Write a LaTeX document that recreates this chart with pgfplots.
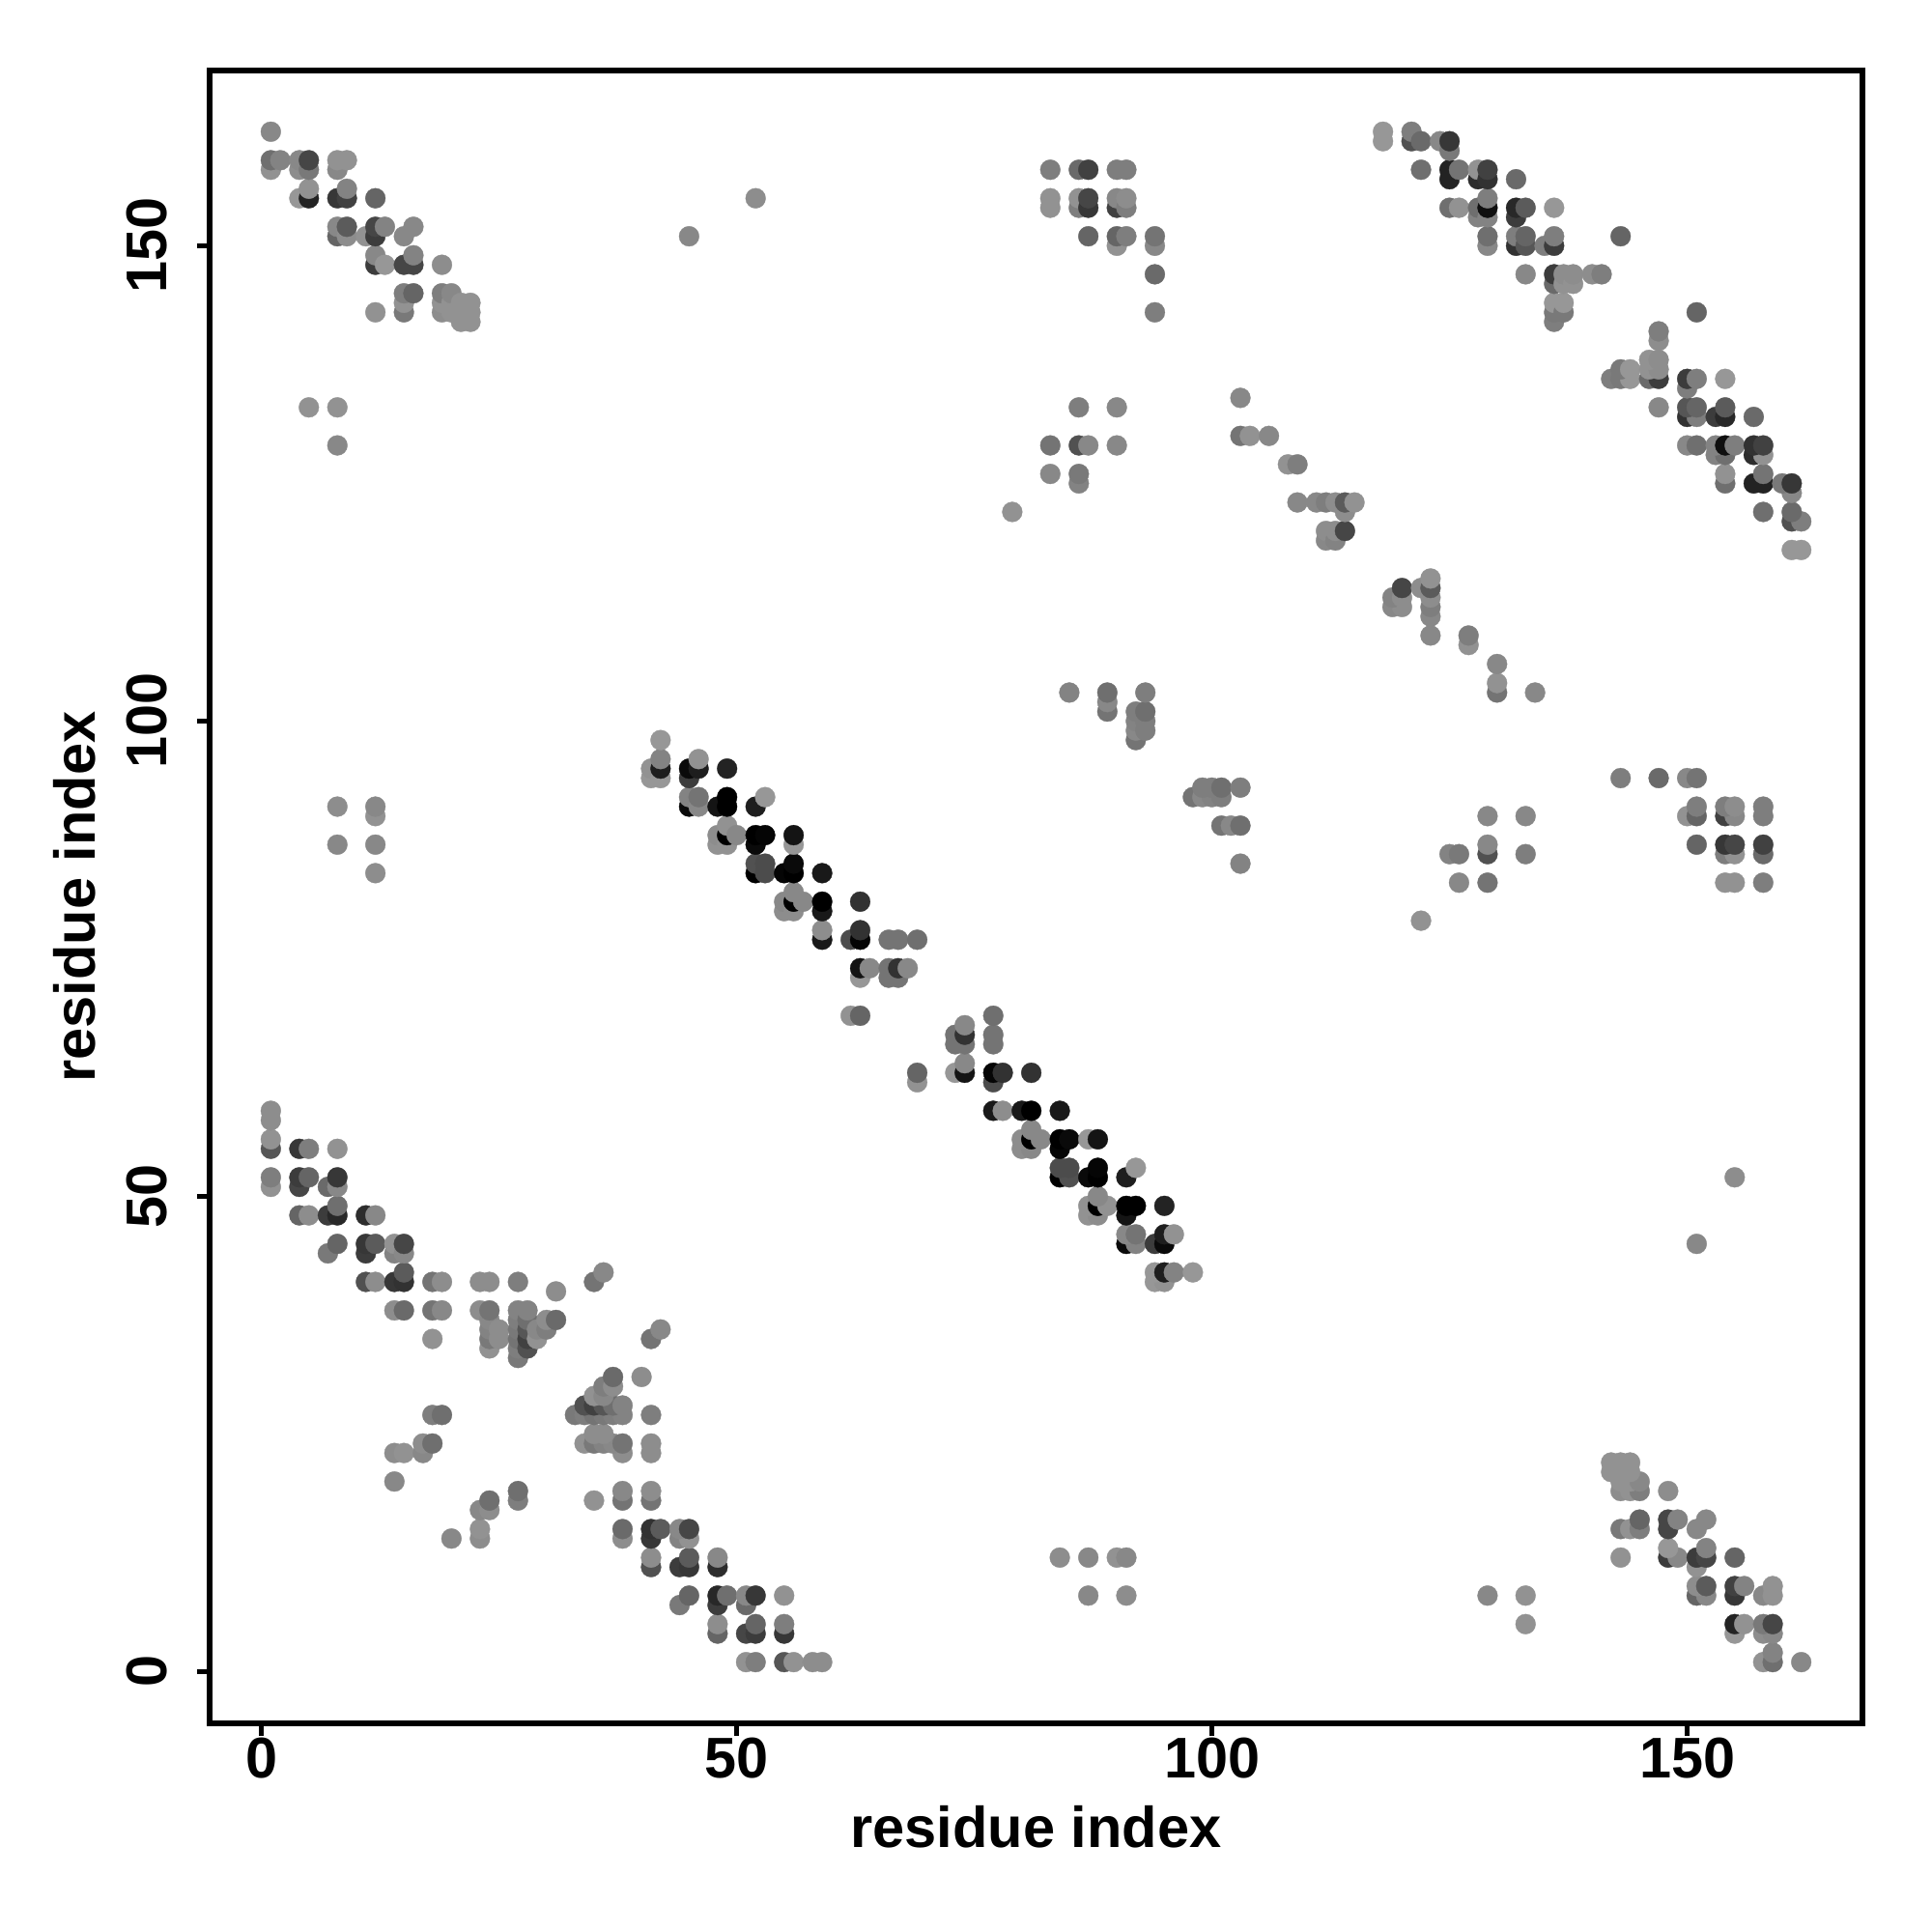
\documentclass[border=0pt]{standalone}
\usepackage{fontspec}
\setmainfont{Liberation Sans}
\usepackage{pgfplots}
\usepackage{pgfplotstable}
\pgfplotsset{compat=1.18}

% contacts, one half only: the map is symmetric. g = grey level 0-255
\pgfplotstableread{
a b g
1 51 145
1 52 125
1 55 85
1 56 145
1 58 140
1 59 140
1 158 145
1 159 110
1 162 135
2 159 130
4 48 100
4 51 70
4 52 60
4 55 55
4 155 150
4 158 140
4 159 135
5 48 140
5 52 100
5 55 125
5 133 145
5 155 35
5 156 145
5 158 120
5 159 70
7 44 120
7 48 60
7 51 105
8 45 100
8 48 40
8 49 110
8 51 135
8 52 55
8 55 145
8 87 135
8 91 140
8 129 135
8 133 145
8 151 100
8 152 135
8 155 55
8 158 135
8 159 145
9 151 140
9 152 90
9 155 65
9 156 130
9 159 145
11 41 80
11 44 60
11 45 55
11 48 45
11 151 145
12 41 140
12 45 90
12 48 135
12 84 140
12 87 135
12 90 145
12 91 135
12 143 145
12 148 60
12 149 135
12 151 60
12 152 70
12 155 100
13 148 150
13 152 130
14 20 135
14 23 140
14 38 140
14 41 55
14 44 130
14 45 145
15 23 145
15 38 105
15 41 50
15 42 90
15 44 135
15 45 70
15 143 120
15 144 145
15 145 125
15 148 70
15 151 135
16 145 100
16 148 70
16 149 130
16 152 135
17 23 135
17 24 140
18 24 110
18 27 125
18 35 145
18 38 115
18 41 115
19 27 110
19 38 135
19 41 140
19 143 140
19 144 145
19 145 125
19 148 140
20 143 145
20 144 145
20 145 135
21 142 145
21 143 145
21 144 145
22 142 145
22 143 145
22 144 145
23 38 140
23 41 140
24 34 145
24 35 120
24 36 130
24 37 135
24 38 115
24 41 140
25 35 140
25 36 140
27 33 120
27 34 125
27 35 115
27 36 120
27 37 125
27 38 130
27 41 125
28 34 80
28 35 65
28 36 85
28 37 110
28 38 130
29 35 145
29 36 135
30 36 125
30 37 140
31 37 105
31 40 140
35 41 115
36 42 135
41 94 150
41 95 145
42 94 150
42 95 30
42 96 130
42 98 150
45 91 10
45 92 130
45 94 60
45 95 10
45 151 135
46 91 135
46 92 115
46 95 30
46 96 145
48 87 145
48 88 140
48 91 20
49 87 145
49 88 0
49 89 145
49 91 0
49 92 0
49 95 35
50 88 135
52 84 0
52 85 80
52 87 10
52 88 0
52 91 30
52 155 140
53 84 75
53 85 75
53 88 5
53 92 150
55 80 140
55 81 135
55 84 5
56 80 140
56 81 0
56 82 135
56 84 0
56 85 10
56 87 150
56 88 20
57 81 135
59 77 25
59 78 140
59 80 25
59 81 0
59 84 25
62 69 145
62 77 75
63 69 100
63 73 150
63 74 20
63 77 5
63 78 50
63 81 50
64 74 135
66 73 115
66 74 115
66 77 115
67 73 115
67 74 50
67 77 115
68 74 135
69 77 110
79 122 145
83 126 135
83 129 115
83 154 145
83 155 145
83 158 125
85 103 130
86 125 130
86 126 120
86 129 80
86 133 125
86 154 125
86 155 145
86 158 105
87 129 135
87 151 100
87 154 55
87 155 70
87 158 65
89 101 115
89 102 135
89 103 110
90 129 135
90 133 135
90 150 145
90 151 100
90 154 65
90 155 135
90 158 125
91 151 125
91 154 125
91 155 140
91 158 125
92 98 115
92 99 135
92 100 130
92 101 125
93 99 125
93 100 125
93 101 110
93 103 125
94 143 125
94 147 105
94 150 135
94 151 115
103 130 115
103 134 135
104 130 145
106 130 135
108 127 145
109 123 135
109 127 125
111 123 135
112 119 135
112 120 140
112 123 125
113 119 130
113 120 140
113 123 140
114 120 70
114 122 140
114 123 90
115 123 145
118 161 150
118 162 150
121 161 80
121 162 125
122 158 110
122 161 105
124 161 135
125 154 110
125 157 35
125 158 35
125 160 120
125 161 55
126 154 145
126 158 115
128 153 130
128 154 110
128 157 45
128 158 145
129 150 135
129 151 110
129 153 130
129 154 15
129 155 125
129 157 50
129 158 65
132 150 50
132 151 125
132 153 60
132 154 40
132 157 105
133 147 135
133 150 85
133 151 100
133 154 90
135 150 125
136 142 125
136 143 120
136 144 150
136 146 105
136 147 60
136 150 60
136 151 125
136 154 150
137 143 120
137 144 150
137 146 145
137 147 140
138 146 145
138 147 140
140 147 140
141 147 125
143 151 100
}\contacts

\begin{document}
\begin{tikzpicture}
\useasboundingbox (-2.17cm,-2.16cm) rectangle (17.83cm,17.84cm);
\begin{axis}[
  scale only axis,
  width=17.11cm,
  height=17.11cm,
  xmin=-5.44, xmax=168.44,
  ymin=-5.44, ymax=168.44,
  xtick={0,50,100,150},
  ytick={0,50,100,150},
  tick align=outside,
  tickpos=left,
  major tick length=1.3mm,
  every tick/.style={black,line width=0.5mm},
  axis line style={line width=0.6mm},
  /pgf/number format/assume math mode=true,
  tick label style={font=\fontsize{16.9}{20}\selectfont\bfseries},
  label style={font=\fontsize{16.95}{20}\selectfont\bfseries},
  y tick label style={rotate=90,anchor=south},
  yticklabel shift=1.9mm,
  xticklabel shift=-1mm,
  xlabel={residue index},
  ylabel={residue index},
  xlabel style={at={(axis description cs:0.5,-0.075)},anchor=base},
  ylabel style={at={(axis description cs:-0.0693,0.5)},anchor=base,rotate=0},
  colormap={contactgrey}{gray(0cm)=(0); gray(1cm)=(1)},
  point meta min=0,
  point meta max=255,
  clip=false,
]
\addplot[scatter,only marks,mark=*,mark size=2.95pt,point meta=explicit,
  scatter/use mapped color={draw=mapped color,fill=mapped color},line width=0.1pt]
  table[x=a,y=b,meta=g]{\contacts};
\addplot[scatter,only marks,mark=*,mark size=2.95pt,point meta=explicit,
  scatter/use mapped color={draw=mapped color,fill=mapped color},line width=0.1pt]
  table[x=b,y=a,meta=g]{\contacts};
\end{axis}
\end{tikzpicture}
\end{document}
